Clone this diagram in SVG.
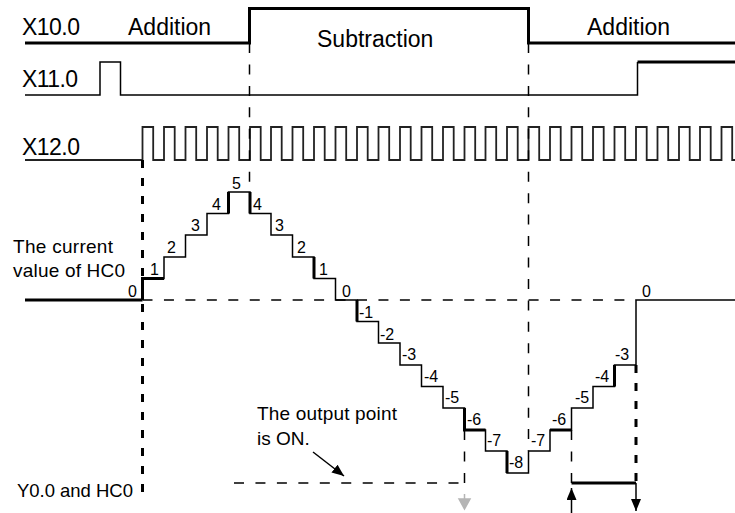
<svg xmlns="http://www.w3.org/2000/svg" width="735" height="513" viewBox="0 0 735 513">
<style>
.sig{fill:none;stroke:#000;stroke-width:1.5}
.pulse{fill:none;stroke:#222;stroke-width:1.8}
.thick{fill:none;stroke:#000;stroke-width:3}
.dash{fill:none;stroke:#000;stroke-width:1.5;stroke-dasharray:10 11.45}
.tdash{fill:none;stroke:#000;stroke-width:3;stroke-dasharray:8 10}
text{font-family:"Liberation Sans",Arial,sans-serif;fill:#000}
.lbl{font-size:23px}
.note{font-size:19px}
.num{font-size:16px}
</style>
<defs>
<marker id="ah" markerUnits="userSpaceOnUse" markerWidth="12" markerHeight="10" refX="12" refY="5" orient="auto">
<path d="M0,0 L12,5 L0,10 z" fill="#000"/>
</marker>
</defs>
<rect width="735" height="513" fill="#fff"/>

<g id="x10">
<path class="thick" d="M25,43 H249.5 V8.5 H528.5 V43 H735"/>
<text class="lbl" x="22" y="35" textLength="58">X10.0</text>
<text class="lbl" x="128" y="35">Addition</text>
<text class="lbl" x="317" y="47">Subtraction</text>
<text class="lbl" x="587" y="35">Addition</text>
</g>

<g id="x11">
<path class="sig" d="M25,95 H100 V62 H120.5 V95 H637.5 V62"/>
<path class="thick" d="M637.5,62 H735"/>
<text class="lbl" x="22" y="87" textLength="56">X11.0</text>
</g>

<g id="x12">
<path class="pulse" d="M25,160 H142.5 V127 H153.2 V160 H164 V127 H174.7 V160 H185.5 V127 H196.2 V160 H207 V127 H217.7 V160 H228.5 V127 H239.2 V160 H250 V127 H260.7 V160 H271 V127 H281.7 V160 H292.5 V127 H303.2 V160 H314 V127 H324.7 V160 H335.5 V127 H346.2 V160 H357 V127 H367.7 V160 H378.5 V127 H389.2 V160 H400 V127 H410.7 V160 H421.5 V127 H432.2 V160 H443 V127 H453.7 V160 H464.5 V127 H475.2 V160 H485.5 V127 H496.2 V160 H507 V127 H517.7 V160 H528.5 V127 H539.2 V160 H550 V127 H560.7 V160 H571.5 V127 H582.2 V160 H593 V127 H603.7 V160 H614.5 V127 H625.2 V160 H636 V127 H646.7 V160 H657.5 V127 H668.2 V160 H679 V127 H689.7 V160 H700 V127 H710.7 V160 H721.5 V127 H732.2 V160 H735"/>
<text class="lbl" x="22" y="155" textLength="58">X12.0</text>
</g>

<g id="hc0">
<path class="thick" d="M25,300 H142.5"/>
<path class="sig" d="M142.5,300 V278.5 H164 V257 H185.5 V235 H207 V213.5 H228.5 V192 H250 V213.5 H271 V235 H292.5 V257 H314 V278.5 H335.5 V300 H357 V321.5 H378.5 V343 H400 V365 H421.5 V386.5 H443 V408 H464.5 V430 H485.5 V451 H507 V473 H528.5 V451 H550 V430 H571.5 V408 H593 V386.5 H614.5 V365 H636 V300 H735"/>
<path class="thick" d="M142.5,300 V278.5 H164 M228.5,213.5 V192 M250,192 V213.5 M314,257 V278.5 M357,300 V321.5 M464.5,408 V430 H485.5 M507,451 V473 M550,430 H571.5 M614.5,386.5 V365"/>
<text class="note" x="13" y="253" textLength="100">The current</text>
<text class="note" x="13" y="277" textLength="112">value of HC0</text>
<g class="num">
<text class="num" x="128" y="297">0</text>
<text class="num" x="150" y="275">1</text>
<text class="num" x="167" y="253">2</text>
<text class="num" x="191" y="231">3</text>
<text class="num" x="212" y="210">4</text>
<text class="num" x="232" y="189">5</text>
<text class="num" x="253" y="210">4</text>
<text class="num" x="275" y="231">3</text>
<text class="num" x="297" y="253">2</text>
<text class="num" x="319" y="275">1</text>
<text class="num" x="342" y="297">0</text>
<text class="num" x="359" y="318">-1</text>
<text class="num" x="380" y="340">-2</text>
<text class="num" x="402" y="360">-3</text>
<text class="num" x="424" y="382">-4</text>
<text class="num" x="445" y="403">-5</text>
<text class="num" x="467" y="425">-6</text>
<text class="num" x="487" y="446">-7</text>
<text class="num" x="509" y="468">-8</text>
<text class="num" x="531" y="446">-7</text>
<text class="num" x="552" y="425">-6</text>
<text class="num" x="575" y="403">-5</text>
<text class="num" x="595" y="382">-4</text>
<text class="num" x="615" y="360">-3</text>
<text class="num" x="642" y="297">0</text>
</g>
</g>

<g id="y0">
<text class="note" x="17" y="497" textLength="116" style="font-size:18.5px">Y0.0 and HC0</text>
<text class="note" x="257" y="420" textLength="140">The output point</text>
<text class="note" x="257" y="445">is ON.</text>
</g>

<g id="connectors">
<path class="dash" d="M142.5,300 H636"/>
<path class="dash" d="M249.5,43 V192"/>
<path class="dash" d="M528.5,43 V451"/>
<path class="dash" d="M464.5,430 V483"/>
<path class="dash" d="M571.5,430 V483"/>
<path class="dash" d="M234,483 H464.5"/>
<path class="tdash" d="M142.5,160 V500"/>
<path class="tdash" d="M636,365 V483"/>
<path class="thick" d="M571.5,483 H636"/>
<path class="sig" d="M636,483 V511" stroke-width="2" marker-end="url(#ah)"/>
<path class="sig" d="M571.5,513 V488" stroke-width="2" marker-end="url(#ah)"/>
<path class="sig" d="M313,452 L344,476" stroke-width="2" marker-end="url(#ah)"/>
<path d="M464.5,494 V500 M459,499 L464.5,509 L470,499 z" fill="#b5b5b5" stroke="#b5b5b5" stroke-width="1.5"/>
</g>
</svg>
